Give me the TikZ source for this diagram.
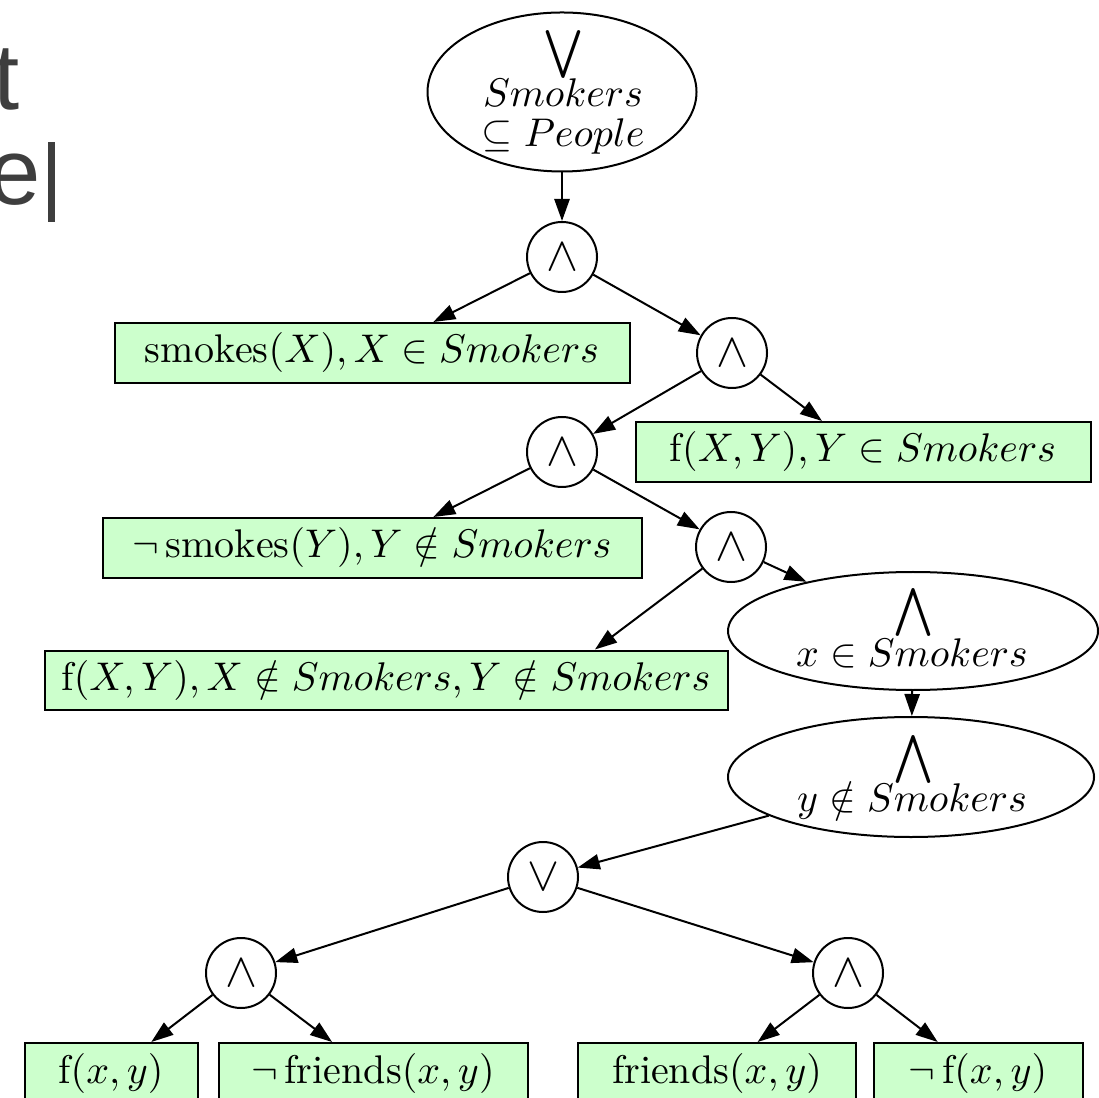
\documentclass[tikz,border=0pt]{standalone}
\usepackage{fontspec}
\usepackage{amsmath}
\newfontfamily\slidefont{Liberation Sans}
\usetikzlibrary{arrows.meta,shapes.geometric,calc}
\definecolor{leafgreen}{RGB}{204,255,204}
\definecolor{slidegray}{RGB}{62,62,62}

\begin{document}
\begin{tikzpicture}[x=0.25pt,y=-0.25pt,
  every node/.style={inner sep=0pt},
  op/.style={circle, draw, line width=0.5pt, minimum size=17.5pt,
    font=\fontsize{13}{15}\selectfont},
  leaf/.style={rectangle, draw, line width=0.5pt, fill=leafgreen,
    minimum height=15pt},
  quant/.style={ellipse, draw, line width=0.5pt},
  bigop/.style={anchor=center, font=\fontsize{11.75}{14}\selectfont},
  qtext/.style={anchor=base},
  smallq/.style={anchor=base, font=\fontsize{9.6}{11}\selectfont},
  link/.style={-{Triangle[length=5.5pt,width=3.8pt]}, line width=0.5pt},
  slidetext/.style={font=\slidefont\fontsize{23.5}{28}\selectfont,
    text=slidegray, anchor=base west}]

\useasboundingbox (0,0) rectangle (1099,1098);

% fragments of the surrounding slide text
\node[slidetext] (tletter) at (-7,110) {t};
\node[slidetext] (eletter) at (-12,205) {e};
\fill[slidegray] (48,142) rectangle (55,222);

% quantifier nodes: fixed-size ellipses with their label lines set on top
\node[quant, minimum width=67.25pt, minimum height=39.75pt] (root) at (562,92) {};
\node[bigop] (rootop) at (563,55) {$\bigvee$};
\node[qtext] (rootvar) at (563,107) {$Smokers$};
\node[qtext] (rootset) at (563,147) {$\subseteq People$};

\node[quant, minimum width=92.5pt, minimum height=29.5pt] (qx) at (913,631) {};
\node[bigop] (qxop) at (913,612) {$\bigwedge$};
\node[smallq] (qxset) at (912,666) {$x\in Smokers$};

\node[quant, minimum width=91.5pt, minimum height=30pt] (qy) at (911,777) {};
\node[bigop] (qyop) at (913,759) {$\bigwedge$};
\node[smallq] (qyset) at (912,811) {$y\notin Smokers$};

% connective nodes
\node[op] (a1) at (562,257) {$\wedge$};
\node[op] (a2) at (732,353) {$\wedge$};
\node[op] (a3) at (562,452) {$\wedge$};
\node[op] (a4) at (731,547) {$\wedge$};
\node[op] (o1) at (543,877) {$\vee$};
\node[op] (a5) at (241,973) {$\wedge$};
\node[op] (a6) at (848,973) {$\wedge$};

% literal boxes
\node[leaf, minimum width=128.75pt] (b1) at (372,353)
  {$\mathrm{smokes}(X), X\in Smokers$};
\node[leaf, minimum width=113.75pt] (b2) at (863,452)
  {$\mathrm{f}(X,Y), Y\in Smokers$};
\node[leaf, minimum width=134.75pt] (b3) at (372,548)
  {$\neg\,\mathrm{smokes}(Y), Y\notin Smokers$};
\node[leaf, minimum width=170.75pt, minimum height=14.75pt] (b4) at (386,680)
  {$\mathrm{f}(X,Y), X\notin Smokers, Y\notin Smokers$};
\node[leaf, minimum width=43.25pt] (l1) at (111,1073) {$\mathrm{f}(x,y)$};
\node[leaf, minimum width=77.25pt] (l2) at (373,1073) {$\neg\,\mathrm{friends}(x,y)$};
\node[leaf, minimum width=69.5pt] (l3) at (717,1073) {$\mathrm{friends}(x,y)$};
\node[leaf, minimum width=52.25pt] (l4) at (978,1073) {$\neg\,\mathrm{f}(x,y)$};

\coordinate (b4in) at ($(b4.north east)!0.195!(b4.north west)$);

% connectors
\draw[link] (root) -- (a1);
\draw[link] (a1) -- (b1);
\draw[link] (a1) -- (a2);
\draw[link] (a2) -- (a3);
\draw[link] (a2) -- (b2);
\draw[link] (a3) -- (b3);
\draw[link] (a3) -- (a4);
\draw[link] (a4) -- (qx);
\draw[link] (a4) -- (b4in);
\draw[link] (qx) -- (qy);
\draw[link] (qy) -- (o1);
\draw[link] (o1) -- (a5);
\draw[link] (o1) -- (a6);
\draw[link] (a5) -- (l1);
\draw[link] (a5) -- (l2);
\draw[link] (a6) -- (l3);
\draw[link] (a6) -- (l4);
\end{tikzpicture}
\end{document}
